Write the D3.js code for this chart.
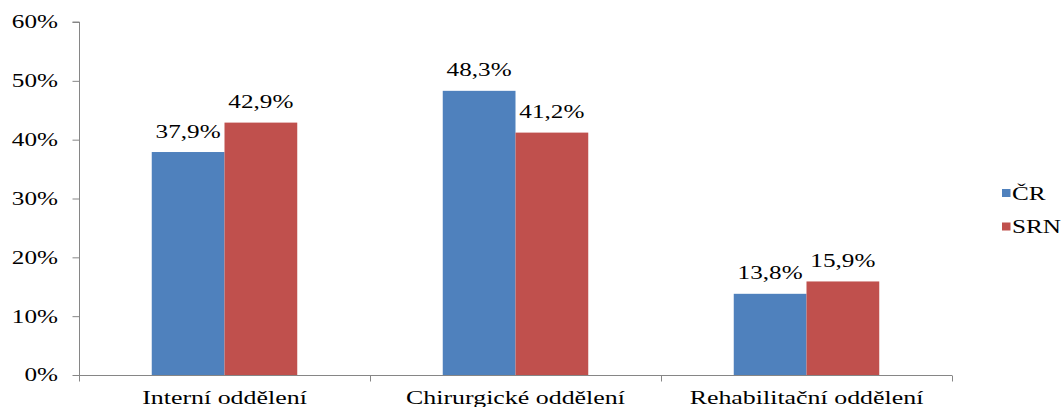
<!DOCTYPE html>
<html>
<head>
<meta charset="utf-8">
<script src="https://cdn.jsdelivr.net/npm/d3@7"></script>
<style>
  html, body { margin: 0; padding: 0; background: #fff; }
  svg { display: block; }
</style>
</head>
<body>
<script>
// Department categories and shares per country
const categories = ["Interní oddělení", "Chirurgické oddělení", "Rehabilitační oddělení"];
const seriesNames = ["ČR", "SRN"];
const valuesCR = [37.9, 48.3, 13.8];
const valuesSRN = [42.9, 41.2, 15.9];
const yTicks = [0, 10, 20, 30, 40, 50, 60];
const colors = ["#4F81BD", "#C0504D"];

const W = 1061, H = 407;
const plot = { left: 79, right: 952, top: 22, bottom: 375 };
const stretch = 1.4; // wide lettering
const axisColor = "#868686";
const fontFamily = "'Liberation Serif', 'Times New Roman', Times, 'DejaVu Serif', serif";

const svg = d3.select("body").append("svg")
  .attr("width", W).attr("height", H)
  .style("font-family", fontFamily);

const x0 = d3.scaleBand().domain(categories).range([plot.left, plot.right]).padding(0);
const bw = x0.bandwidth();
const x1 = d3.scaleBand().domain(seriesNames).range([bw * 0.25, bw * 0.75]).padding(0);
const y = d3.scaleLinear().domain([0, 60]).range([plot.bottom, plot.top]);

const fmt = v => d3.format(".1f")(v).replace(".", ",") + "%";

function label(sel, size) {
  return sel.append("text")
    .attr("font-family", fontFamily)
    .attr("font-size", size)
    .attr("fill", "#000");
}

// Bars
const rows = categories.map((c, i) => ({ cat: c, vals: [valuesCR[i], valuesSRN[i]] }));
const groups = svg.append("g").selectAll("g").data(rows).join("g")
  .attr("transform", d => `translate(${x0(d.cat)},0)`);

groups.selectAll("rect").data(d => d.vals.map((v, k) => ({ s: seriesNames[k], v, k })))
  .join("rect")
  .attr("x", d => x1(d.s))
  .attr("y", d => y(d.v))
  .attr("width", x1.bandwidth())
  .attr("height", d => y(0) - y(d.v))
  .attr("fill", d => colors[d.k]);

// Value labels above bars
const vl = groups.selectAll("g.lbl").data(d => d.vals.map((v, k) => ({ s: seriesNames[k], v, k })))
  .join("g").attr("class", "lbl")
  .attr("transform", d => `translate(${x1(d.s) + x1.bandwidth() / 2},${y(d.v) - 14.5}) scale(${stretch},1)`);
label(vl, 18).attr("text-anchor", "middle").text(d => fmt(d.v));

// Y axis
const yAxis = d3.axisLeft(y).tickValues(yTicks).tickSize(7).tickFormat(() => "");
const gy = svg.append("g").attr("transform", `translate(${plot.left + 0.5},0)`).call(yAxis);
gy.select(".domain").attr("stroke", axisColor).attr("d", `M-7,${plot.top}H0V${plot.bottom}`);
gy.selectAll(".tick line").attr("stroke", axisColor);

const yl = svg.append("g").selectAll("g").data(yTicks).join("g")
  .attr("transform", d => `translate(58,${y(d)}) scale(${stretch},1)`);
label(yl, 18).attr("text-anchor", "end").attr("dy", "0.36em").text(d => d + "%");

// X axis with boundary ticks between categories
const gx = svg.append("g").attr("transform", `translate(0,${plot.bottom + 0.5})`);
gx.append("line").attr("x1", plot.left).attr("x2", plot.right).attr("stroke", axisColor);
const bounds = categories.map(c => x0(c) + bw).concat([plot.left]);
gx.selectAll("line.tk").data(bounds).join("line").attr("class", "tk")
  .attr("x1", d => Math.round(d) + 0.5).attr("x2", d => Math.round(d) + 0.5)
  .attr("y1", 0).attr("y2", 6).attr("stroke", axisColor);

const cl = svg.append("g").selectAll("g").data(categories).join("g")
  .attr("transform", d => `translate(${x0(d) + bw / 2},404) scale(${stretch},1)`);
label(cl, 18.5).attr("text-anchor", "middle").text(d => d);

// Legend
const leg = svg.append("g").selectAll("g").data(seriesNames).join("g")
  .attr("transform", (d, i) => `translate(1002,${189 + i * 33.5})`);
leg.append("rect").attr("width", 8.5).attr("height", 8).attr("fill", (d, i) => colors[i]);
const lt = leg.append("g").attr("transform", `translate(10,10.5) scale(${stretch},1)`);
label(lt, 18).text(d => d);
</script>
</body>
</html>
